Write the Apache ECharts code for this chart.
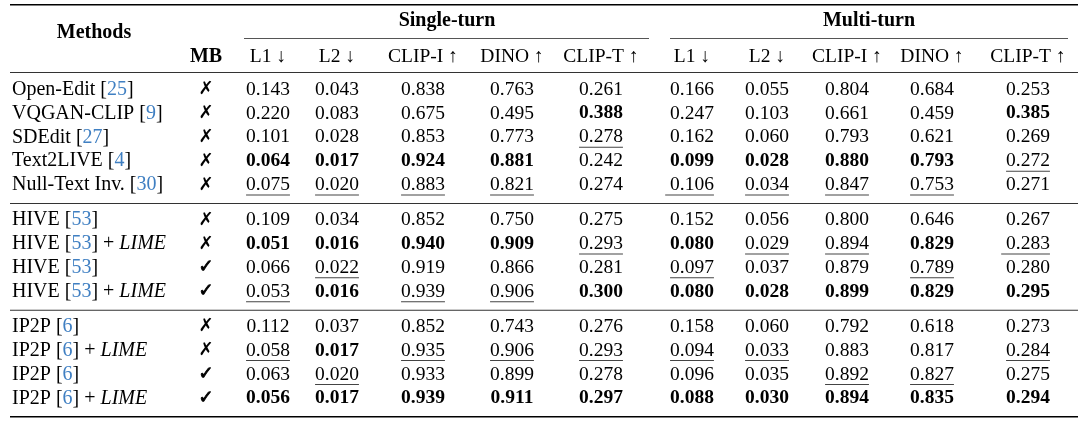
<!DOCTYPE html>
<html><head><meta charset="utf-8">
<script src="https://cdn.jsdelivr.net/npm/echarts@6/dist/echarts.min.js"></script>
<style>html,body{margin:0;padding:0;background:#fff}#c{width:1088px;height:425px}</style>
</head><body><div id="c"></div>
<script>
// ---------------- data ----------------
const methods = ['Open-Edit','VQGAN-CLIP','SDEdit','Text2LIVE','Null-Text Inv.','HIVE','HIVE','HIVE','HIVE','IP2P','IP2P','IP2P','IP2P'];
const refs = [25,9,27,4,30,53,53,53,53,6,6,6,6];
const withLime = [0,0,0,0,0,0,1,0,1,0,1,0,1];
const memoryBank = [0,0,0,0,0,0,0,1,1,0,0,1,1];
const groups = [0,0,0,0,0,1,1,1,1,2,2,2,2];
const metrics = ['L1 \u2193','L2 \u2193','CLIP-I \u2191','DINO \u2191','CLIP-T \u2191'];
const settings = ['Single-turn','Multi-turn'];
const singleTurn = [
 [0.143,0.043,0.838,0.763,0.261],
 [0.220,0.083,0.675,0.495,0.388],
 [0.101,0.028,0.853,0.773,0.278],
 [0.064,0.017,0.924,0.881,0.242],
 [0.075,0.020,0.883,0.821,0.274],
 [0.109,0.034,0.852,0.750,0.275],
 [0.051,0.016,0.940,0.909,0.293],
 [0.066,0.022,0.919,0.866,0.281],
 [0.053,0.016,0.939,0.906,0.300],
 [0.112,0.037,0.852,0.743,0.276],
 [0.058,0.017,0.935,0.906,0.293],
 [0.063,0.020,0.933,0.899,0.278],
 [0.056,0.017,0.939,0.911,0.297]];
const multiTurn = [
 [0.166,0.055,0.804,0.684,0.253],
 [0.247,0.103,0.661,0.459,0.385],
 [0.162,0.060,0.793,0.621,0.269],
 [0.099,0.028,0.880,0.793,0.272],
 [0.106,0.034,0.847,0.753,0.271],
 [0.152,0.056,0.800,0.646,0.267],
 [0.080,0.029,0.894,0.829,0.283],
 [0.097,0.037,0.879,0.789,0.280],
 [0.080,0.028,0.899,0.829,0.295],
 [0.158,0.060,0.792,0.618,0.273],
 [0.094,0.033,0.883,0.817,0.284],
 [0.096,0.035,0.892,0.827,0.275],
 [0.088,0.030,0.894,0.835,0.294]];
// b = best (bold), u = second best (underlined), U = underlined incl. leading space
const singleMarks = ['.....','....b','....u','bbbb.','uuuu.','.....','bbbbu','.u...','ubuub','.....','ubuuu','.u...','bbbbb'];
const multiMarks  = ['.....','....b','.....','bbbbu','Uuuu.','.....','buubU','u..u.','bbbbb','.....','uu..u','..uu.','bbbbb'];

// ---------------- layout ----------------
const W = 1088, H = 425;
const colX = [268,337,423,512,601, 692,767,847,932,1028];
const settingX = [447, 869];
const ROW0 = 89.5, ROW_STEP = 23.9, GROUP_GAP = 11;
const rowY = i => ROW0 + i * ROW_STEP + groups[i] * GROUP_GAP;
const FS_TEXT = 20, FS_NUM = 19.5, FAM = '"Liberation Serif","Times New Roman",serif';
const BLUE = '#3f7fc2';
const TABLE_L = 10, TABLE_R = 1078;

const mctx = document.createElement('canvas').getContext('2d');
function fontStr(bold, italic, fs){ return (italic?'italic ':'') + (bold?'bold ':'') + fs + 'px ' + FAM; }
function measure(t, bold, italic, fs){ mctx.font = fontStr(bold, italic, fs); return mctx.measureText(t).width; }

// cells: built from the data arrays
const cells = [];
cells.push({x: 94, y: 33, fs: FS_TEXT, segs:[{t:'Methods', b:1}], align:'center'});
cells.push({x: 206, y: 56.5, fs: FS_TEXT, segs:[{t:'MB', b:1}], align:'center'});
settings.forEach((s, k) => cells.push({x: settingX[k], y: 21, fs: FS_TEXT, segs:[{t:s, b:1}], align:'center'}));
for (let k = 0; k < 2; k++) metrics.forEach((m, j) => cells.push({x: colX[k*5+j], y: 56.5, fs: FS_NUM, segs:[{t:m}], align:'center'}));
methods.forEach((m, i) => {
  const y = rowY(i);
  const segs = [{t: m + ' ['}, {t: String(refs[i]), c: BLUE}, {t: ']'}];
  if (withLime[i]) { segs.push({t: ' + '}); segs.push({t: 'LIME', it: 1}); }
  cells.push({x: 12, y, fs: FS_TEXT, segs, align:'left'});
  cells.push({x: 206, y, mark: memoryBank[i] ? '\u2713' : '\u2717', check: !!memoryBank[i]});
  [singleTurn, multiTurn].forEach((tbl, k) => {
    const marks = (k === 0 ? singleMarks : multiMarks)[i];
    tbl[i].forEach((v, j) => {
      const mk = marks[j];
      cells.push({x: colX[k*5+j], y, fs: FS_NUM, segs:[{t: v.toFixed(3), b: mk === 'b' ? 1 : 0}], align:'center',
                  ul: mk === 'u' || mk === 'U', ulPad: mk === 'U'});
    });
  });
});

// horizontal rules [x1, y, x2, lineWidth, color]
const rules = [
  [TABLE_L, 4.8, TABLE_R, 1.6, '#000'],
  [244, 38.5, 649, 1, '#555'],
  [670, 38.5, 1068, 1, '#555'],
  [TABLE_L, 72.6, TABLE_R, 1, '#333'],
  [TABLE_L, rowY(4) + 18.5, TABLE_R, 1, '#333'],
  [TABLE_L, rowY(8) + 18.5, TABLE_R, 1, '#333'],
  [TABLE_L, rowY(12) + 18.5, TABLE_R, 1.6, '#000']
];

const chart = echarts.init(document.getElementById('c'), null, {renderer:'canvas'});
chart.setOption({
  animation: false,
  backgroundColor: '#fff',
  grid: {left: 0, right: 0, top: 0, bottom: 0},
  xAxis: {type: 'value', min: 0, max: W, show: false},
  yAxis: {type: 'value', min: 0, max: H, inverse: true, show: false},
  series: [
    {
      type: 'custom', silent: true,
      data: rules.map(r => [r[0], r[1], r[2]]),
      renderItem: (params, api) => {
        const r = rules[params.dataIndex];
        const a = api.coord([r[0], r[1]]), b = api.coord([r[2], r[1]]);
        return {type: 'rect', shape: {x: a[0], y: a[1] - r[3] / 2, width: b[0] - a[0], height: r[3]}, style: {fill: r[4]}};
      }
    },
    {
      type: 'custom', silent: true,
      data: cells.map(c => [c.x, c.y]),
      renderItem: (params, api) => {
        const c = cells[params.dataIndex];
        const p = api.coord([c.x, c.y]);
        if (c.mark) {
          const st = {text: c.mark, font: 'bold 18px "DejaVu Sans"', fill: '#000', align: 'center', verticalAlign: 'middle'};
          if (c.check) { st.stroke = '#000'; st.lineWidth = 0.9; }
          return {type: 'text', x: p[0], y: p[1], style: st};
        }
        const widths = c.segs.map(s => measure(s.t, s.b, s.it, c.fs));
        const total = widths.reduce((a, b) => a + b, 0);
        let x = c.align === 'center' ? p[0] - total / 2 : p[0];
        const children = [];
        const x0 = x;
        c.segs.forEach((s, k) => {
          children.push({type: 'text', x: x, y: p[1], style: {text: s.t, font: fontStr(s.b, s.it, c.fs), fill: s.c || '#000', align: 'left', verticalAlign: 'middle'}});
          x += widths[k];
        });
        if (c.ul) {
          const pad = c.ulPad ? measure(' ', 0, 0, c.fs) : 0;
          children.push({type: 'rect', shape: {x: x0 - pad, y: p[1] + 9.5, width: total + pad, height: 1}, style: {fill: '#444'}});
        }
        return {type: 'group', children};
      }
    }
  ]
});
</script>
</body></html>
